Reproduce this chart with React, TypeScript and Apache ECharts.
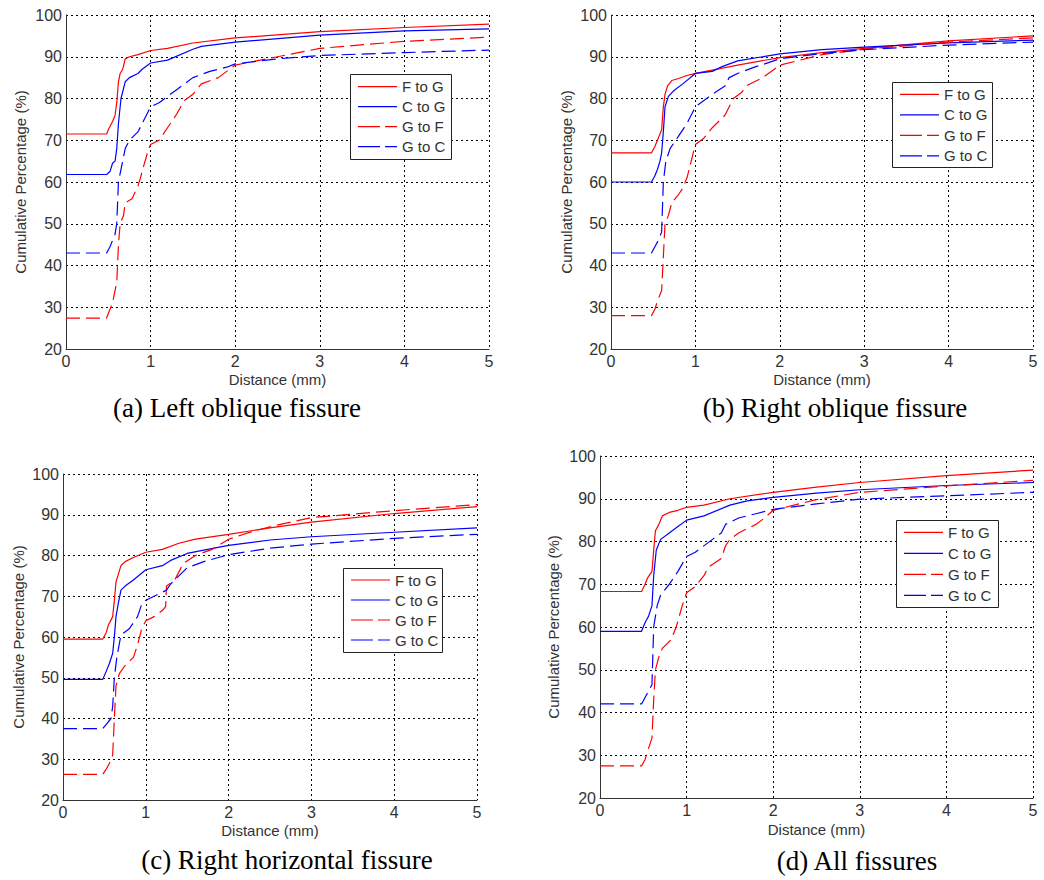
import React, { useEffect, useRef } from "react";
import * as echarts from "echarts";

// Distance (mm) / cumulative percentage (%) pairs
const seriesNames = ["F to G", "C to G", "G to F", "G to C"];
const xTicks = [0, 1, 2, 3, 4, 5];
const yTicks = [20, 30, 40, 50, 60, 70, 80, 90, 100];
const panelCaptions = [
  "(a) Left oblique fissure",
  "(b) Right oblique fissure",
  "(c) Right horizontal fissure",
  "(d) All fissures",
];

// (a) Left oblique fissure
const aFtoG = [[0, 71.5], [0.48, 71.5], [0.5, 72.5], [0.55, 74.5], [0.58, 76], [0.6, 79], [0.62, 84], [0.64, 86], [0.67, 87], [0.7, 89.5], [0.75, 90], [0.85, 90.5], [1.0, 91.5], [1.2, 92], [1.5, 93.3], [2.0, 94.5], [3.0, 96], [4.0, 97], [5.0, 97.8]];
const aCtoG = [[0, 61.8], [0.48, 61.8], [0.52, 62.5], [0.55, 64.5], [0.58, 65], [0.6, 68], [0.62, 74], [0.65, 80], [0.7, 84], [0.75, 85], [0.85, 86], [0.9, 87], [1.0, 88.5], [1.2, 89.2], [1.5, 91.8], [1.6, 92.5], [2.0, 93.5], [3.0, 95.2], [4.0, 96.2], [5.0, 96.7]];
const aGtoF = [[0, 27.4], [0.48, 27.4], [0.5, 28.5], [0.53, 30], [0.56, 32], [0.6, 36], [0.62, 45], [0.64, 50], [0.68, 52], [0.7, 55], [0.78, 56], [0.85, 59], [0.88, 61], [0.92, 64], [0.97, 67.5], [1.0, 69], [1.1, 70], [1.2, 73], [1.3, 76], [1.4, 79.5], [1.5, 81], [1.6, 83.5], [1.8, 85], [2.0, 88], [2.5, 90], [3.0, 92], [4.0, 93.7], [5.0, 94.7]];
const aGtoC = [[0, 43], [0.48, 43], [0.52, 44.5], [0.55, 46], [0.58, 47.5], [0.6, 50], [0.62, 60], [0.65, 63], [0.7, 68], [0.75, 70], [0.85, 72], [0.95, 76], [1.0, 78], [1.1, 79], [1.3, 82], [1.4, 83.5], [1.5, 85], [1.7, 86.5], [1.9, 87.5], [2.0, 88.3], [2.5, 89.5], [3.0, 90.3], [4.0, 91], [5.0, 91.6]];

// (b) Right oblique fissure
const bFtoG = [[0, 67], [0.48, 67], [0.52, 68.5], [0.55, 70], [0.6, 72.5], [0.62, 78], [0.64, 81], [0.67, 83], [0.72, 84.3], [0.8, 84.8], [0.9, 85.5], [1.0, 86], [1.2, 86.8], [1.5, 88], [2.0, 89.8], [2.5, 91], [3.0, 92], [4.0, 93.8], [5.0, 95]];
const bCtoG = [[0, 60], [0.48, 60], [0.52, 61.5], [0.55, 63], [0.58, 65], [0.6, 67], [0.62, 72], [0.64, 78], [0.68, 80.5], [0.75, 82], [0.85, 83.5], [1.0, 86], [1.2, 86.5], [1.3, 87.5], [1.5, 89], [2.0, 90.7], [2.5, 91.7], [3.0, 92.3], [4.0, 93.3], [5.0, 94]];
const bGtoF = [[0, 28], [0.48, 28], [0.52, 29.5], [0.55, 31.5], [0.6, 34], [0.62, 42], [0.64, 50], [0.68, 52], [0.72, 55], [0.8, 57], [0.85, 58.5], [0.9, 61], [0.95, 65], [1.0, 69], [1.1, 70.5], [1.2, 73], [1.35, 76], [1.45, 80], [1.55, 81.5], [1.6, 83], [1.8, 85], [2.0, 88], [2.5, 90.5], [3.0, 91.8], [4.0, 93.5], [5.0, 94.5]];
const bGtoC = [[0, 43], [0.48, 43], [0.52, 44.5], [0.56, 46], [0.6, 48], [0.62, 60], [0.65, 65], [0.7, 68], [0.8, 71], [0.9, 74], [1.0, 78], [1.2, 81], [1.35, 83], [1.4, 85], [1.5, 86], [1.7, 87.5], [2.0, 89.5], [2.5, 90.8], [3.0, 91.7], [4.0, 92.8], [5.0, 93.5]];

// (c) Right horizontal fissure
const cFtoG = [[0, 59.5], [0.48, 59.5], [0.52, 61], [0.55, 63], [0.6, 65], [0.62, 69], [0.64, 73.5], [0.67, 75.5], [0.7, 77.5], [0.75, 78.5], [0.85, 79.5], [1.0, 80.8], [1.2, 81.5], [1.4, 83], [1.6, 84], [2.0, 85.2], [2.5, 86.8], [3.0, 88.2], [4.0, 90.3], [5.0, 92]];
const cCtoG = [[0, 49.6], [0.48, 49.6], [0.52, 51.5], [0.56, 53.5], [0.6, 56], [0.62, 60], [0.64, 65], [0.67, 68.5], [0.7, 71.5], [0.75, 72.5], [0.85, 74], [1.0, 76.5], [1.2, 77.5], [1.3, 78.8], [1.5, 80.5], [1.7, 81.3], [2.0, 82.5], [2.5, 83.8], [3.0, 84.6], [4.0, 85.7], [5.0, 86.8]];
const cGtoF = [[0, 26.3], [0.48, 26.3], [0.52, 27.5], [0.56, 29], [0.6, 31], [0.62, 40], [0.64, 48], [0.68, 51], [0.75, 53], [0.85, 55], [0.9, 58], [0.95, 62], [1.0, 64], [1.1, 65], [1.2, 66.5], [1.24, 67.5], [1.25, 72.5], [1.35, 74], [1.45, 78], [1.6, 80], [1.8, 81.5], [2.0, 84], [2.3, 86], [2.6, 87.5], [3.0, 89.3], [4.0, 91], [5.0, 92.5]];
const cGtoC = [[0, 37.5], [0.48, 37.5], [0.52, 38.5], [0.58, 40], [0.6, 43], [0.62, 50], [0.65, 55], [0.7, 60.5], [0.8, 62], [0.9, 65], [0.95, 68], [1.0, 69], [1.1, 70], [1.25, 71.5], [1.3, 73], [1.4, 75], [1.5, 77], [1.7, 78.5], [2.0, 80.2], [2.5, 81.8], [3.0, 82.8], [4.0, 84.2], [5.0, 85.2]];

// (d) All fissures
const dFtoG = [[0, 68.3], [0.48, 68.3], [0.52, 70], [0.55, 71.5], [0.6, 73], [0.62, 78], [0.64, 82.5], [0.68, 84], [0.72, 86], [0.8, 86.8], [0.9, 87.3], [1.0, 88], [1.2, 88.5], [1.5, 90], [2.0, 91.5], [2.5, 92.7], [3.0, 93.8], [4.0, 95.4], [5.0, 96.7]];
const dCtoG = [[0, 59], [0.48, 59], [0.52, 61], [0.56, 62.5], [0.6, 65], [0.62, 72], [0.65, 78], [0.7, 80.5], [0.8, 82], [0.9, 83.5], [1.0, 85], [1.2, 86], [1.5, 88.5], [1.7, 89.5], [2.0, 90.3], [2.5, 91.3], [3.0, 92.1], [4.0, 93.1], [5.0, 93.8]];
const dGtoF = [[0, 27.5], [0.48, 27.5], [0.52, 29], [0.55, 31], [0.6, 34], [0.62, 43], [0.64, 50], [0.68, 53], [0.72, 55], [0.82, 57], [0.88, 60], [0.95, 65], [1.0, 68], [1.1, 69.5], [1.2, 72], [1.25, 74], [1.4, 76], [1.45, 79], [1.5, 80.5], [1.6, 82], [1.8, 84], [1.9, 85.5], [2.0, 87.3], [2.5, 89.8], [3.0, 91.5], [4.0, 93], [5.0, 94.3]];
const dGtoC = [[0, 42], [0.48, 42], [0.52, 43.5], [0.56, 45], [0.6, 46.5], [0.62, 60], [0.66, 65], [0.7, 67.5], [0.8, 70], [0.9, 73], [1.0, 76.5], [1.1, 77.5], [1.3, 80.5], [1.4, 82], [1.45, 84], [1.6, 85.5], [1.8, 86.5], [2.0, 87.5], [2.5, 88.8], [3.0, 89.9], [4.0, 90.7], [5.0, 91.5]];

const panelData = [
  [aFtoG, aCtoG, aGtoF, aGtoC],
  [bFtoG, bCtoG, bGtoF, bGtoC],
  [cFtoG, cCtoG, cGtoF, cGtoC],
  [dFtoG, dCtoG, dGtoF, dGtoC],
];

const RED = "#ff0000";
const BLUE = "#0000ff";
const seriesColors = [RED, BLUE, RED, BLUE];
const seriesDashed = [false, false, true, true];
const DASH = [14, 6];

const SANS = "'Liberation Sans', Arial, sans-serif";
const SERIF = "'Liberation Serif', 'Times New Roman', serif";

// layout
const grids = [
  { left: 66, top: 15, width: 423, height: 334 },
  { left: 611, top: 15, width: 422, height: 334 },
  { left: 63, top: 474, width: 414, height: 326 },
  { left: 600, top: 456, width: 433, height: 342 },
];
// legend boxes: left, top, width, height, first row centre offset, row step
const legendBoxes = [
  [350, 74, 101, 85, 12.7, 20],
  [892, 82, 100, 85, 12.3, 20.5],
  [343, 568, 99, 84, 12, 20],
  [896, 520, 102, 87, 12.3, 21],
];
const captionPos = [
  [237, 408],
  [835, 408],
  [287, 860],
  [857, 861],
];
const yNameGap = [38, 37, 37, 39];
const xNameGap = [23, 23, 23, 24];

export default function App() {
  const ref = useRef<HTMLDivElement>(null);
  useEffect(() => {
    document.body.style.margin = "0";
    if (!ref.current) return;
    const chart = echarts.init(ref.current, null, { renderer: "svg" });

    const xAxis = grids.map((_, i) => ({
      type: "value",
      gridIndex: i,
      min: xTicks[0],
      max: xTicks[xTicks.length - 1],
      interval: 1,
      name: "Distance (mm)",
      nameLocation: "middle",
      nameGap: xNameGap[i],
      nameTextStyle: { fontFamily: SANS, fontSize: 15, color: "#333" },
      axisLine: { show: true, onZero: false, lineStyle: { color: "#333", width: 1 } },
      axisTick: { show: false },
      axisLabel: { fontFamily: SANS, fontSize: 16, color: "#333", margin: 4 },
      splitLine: { show: true, lineStyle: { color: "#000", type: [2, 3], width: 1 } },
    }));
    const yAxis = grids.map((_, i) => ({
      type: "value",
      gridIndex: i,
      min: yTicks[0],
      max: yTicks[yTicks.length - 1],
      interval: 10,
      name: "Cumulative Percentage (%)",
      nameLocation: "middle",
      nameGap: yNameGap[i],
      nameTextStyle: { fontFamily: SANS, fontSize: 15, color: "#333" },
      axisLine: { show: true, onZero: false, lineStyle: { color: "#333", width: 1 } },
      axisTick: { show: false },
      axisLabel: { fontFamily: SANS, fontSize: 16, color: "#333", margin: 4 },
      splitLine: { show: true, lineStyle: { color: "#000", type: [2, 3], width: 1 } },
    }));

    const series: any[] = [];
    panelData.forEach((curves, p) => {
      curves.forEach((pts, k) => {
        series.push({
          type: "line",
          name: seriesNames[k],
          xAxisIndex: p,
          yAxisIndex: p,
          data: pts,
          symbol: "none",
          showSymbol: false,
          z: 3,
          lineStyle: {
            color: seriesColors[k],
            width: 1.2,
            type: seriesDashed[k] ? DASH : "solid",
          },
          itemStyle: { color: seriesColors[k] },
        });
      });
    });

    const graphic: any[] = [];
    legendBoxes.forEach(([L, T, W, H, r0, step]) => {
      graphic.push({
        type: "rect",
        z: 100,
        shape: { x: L + 0.5, y: T + 0.5, width: W, height: H },
        style: { fill: "#fff", stroke: "#222", lineWidth: 1 },
      });
      seriesNames.forEach((nm, k) => {
        const y = T + r0 + step * k;
        graphic.push({
          type: "line",
          z: 101,
          shape: { x1: L + 8, y1: y, x2: L + 47, y2: y },
          style: {
            stroke: seriesColors[k],
            lineWidth: 1.2,
            lineDash: seriesDashed[k] ? [22, 5] : null,
          },
        });
        graphic.push({
          type: "text",
          z: 101,
          x: L + 52,
          y: y,
          style: {
            text: nm,
            fontFamily: SANS,
            fontSize: 15,
            fill: "#333",
            textAlign: "left",
            textVerticalAlign: "middle",
          },
        });
      });
    });
    captionPos.forEach((c, i) => {
      graphic.push({
        type: "text",
        x: c[0],
        y: c[1],
        style: {
          text: panelCaptions[i],
          fontFamily: SERIF,
          fontSize: 27,
          fill: "#000",
          textAlign: "center",
          textVerticalAlign: "middle",
        },
      });
    });

    chart.setOption({
      animation: false,
      backgroundColor: "#fff",
      grid: grids.map((g) => ({ ...g, containLabel: false })),
      xAxis,
      yAxis,
      series,
      graphic,
    } as any);

    return () => chart.dispose();
  }, []);
  return <div ref={ref} style={{ width: 1044, height: 880 }} />;
}
